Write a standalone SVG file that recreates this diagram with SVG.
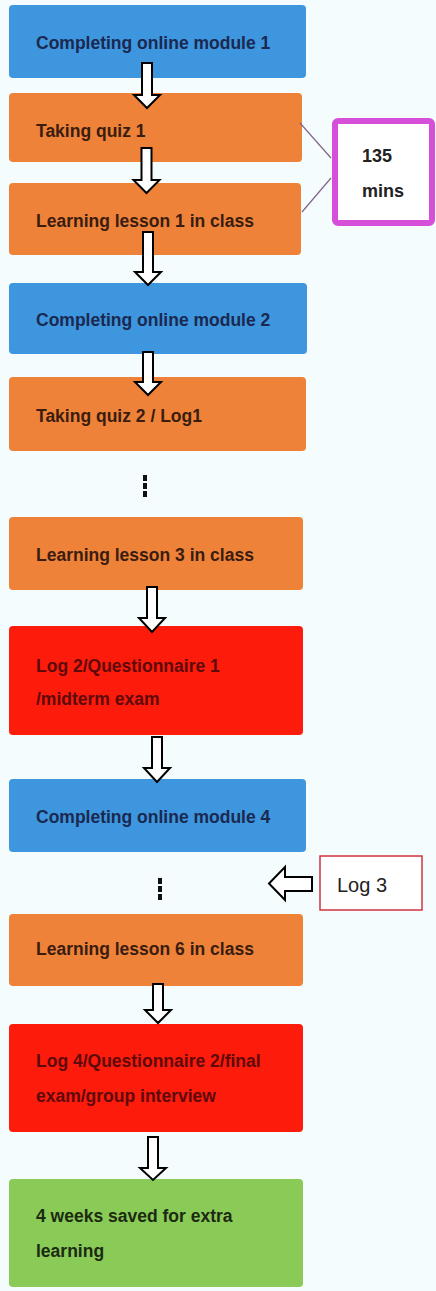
<svg xmlns="http://www.w3.org/2000/svg" width="436" height="1291" viewBox="0 0 436 1291">
<style>
.box{stroke:none}
.blue{fill:#3d96de}
.orange{fill:#ee8238}
.red{fill:#fd1b0c}
.green{fill:#8acb57}
.t{font-family:"Liberation Sans",Arial,sans-serif;font-weight:bold;font-size:17.5px}
.tb{fill:#1b2850}
.to{fill:#3a1c10}
.tr{fill:#5e0a0a}
.tg{fill:#1c2a12}
.arrow{fill:#ffffff;stroke:#000;stroke-width:2;stroke-linejoin:miter}
.dots{stroke:#111;stroke-width:4;stroke-dasharray:6 2}
.link{stroke:#86628a;stroke-width:1.2;fill:none}
</style>
<rect x="0" y="0" width="436" height="1291" fill="#f4fcfd"/>

<g id="n1"><rect class="box blue" x="9" y="5" width="297" height="73" rx="4"/><text class="t tb" x="36" y="49">Completing online module 1</text></g>
<g id="n2"><rect class="box orange" x="9" y="93" width="293" height="69" rx="4"/><text class="t to" x="36" y="137">Taking quiz 1</text></g>
<g id="n3"><rect class="box orange" x="9" y="183" width="292" height="72" rx="4"/><text class="t to" x="36" y="227">Learning lesson 1 in class</text></g>
<g id="n4"><rect class="box blue" x="9" y="283" width="298" height="71" rx="4"/><text class="t tb" x="36" y="326">Completing online module 2</text></g>
<g id="n5"><rect class="box orange" x="9" y="377" width="297" height="74" rx="4"/><text class="t to" x="36" y="422">Taking quiz 2 / Log1</text></g>
<g id="n6"><rect class="box orange" x="9" y="517" width="294" height="73" rx="4"/><text class="t to" x="36" y="561">Learning lesson 3 in class</text></g>
<g id="n7"><rect class="box red" x="9" y="626" width="294" height="109" rx="4"/><text class="t tr" x="36" y="672">Log 2/Questionnaire 1</text><text class="t tr" x="36" y="705">/midterm exam</text></g>
<g id="n8"><rect class="box blue" x="9" y="779" width="297" height="73" rx="4"/><text class="t tb" x="36" y="823">Completing online module 4</text></g>
<g id="n9"><rect class="box orange" x="9" y="914" width="294" height="72" rx="4"/><text class="t to" x="36" y="955">Learning lesson 6 in class</text></g>
<g id="n10"><rect class="box red" x="9" y="1024" width="294" height="108" rx="4"/><text class="t tr" x="36" y="1067">Log 4/Questionnaire 2/final</text><text class="t tr" x="36" y="1102">exam/group interview</text></g>
<g id="n11"><rect class="box green" x="9" y="1179" width="294" height="108" rx="4"/><text class="t tg" x="36" y="1222">4 weeks saved for extra</text><text class="t tg" x="36" y="1257">learning</text></g>

<g id="time"><rect x="335" y="121" width="97" height="102" rx="3" fill="#ffffff" stroke="#d64fd8" stroke-width="6"/><text class="t" style="font-size:18px" fill="#222" x="362" y="162">135</text><text class="t" style="font-size:18px" fill="#222" x="362" y="197">mins</text></g>

<g id="log3"><rect x="320" y="856" width="102" height="54" fill="#ffffff" stroke="#d0323f" stroke-width="1.5"/><text x="337" y="892" font-family="Liberation Sans,Arial,sans-serif" font-size="20" fill="#222">Log 3</text></g>

<g id="connectors">
<path class="link" d="M300 123 L331 158"/>
<path class="link" d="M302 212 L331 178"/>
<path class="arrow" d="M142 63 H152 V95 H160 L147 108 L134 95 H142 Z"/>
<path class="arrow" d="M141.5 148 H151.5 V180 H159.5 L146.5 193 L133.5 180 H141.5 Z"/>
<path class="arrow" d="M143 232 H153 V272 H161 L148 285 L135 272 H143 Z"/>
<path class="arrow" d="M143 352 H153 V382 H161 L148 395 L135 382 H143 Z"/>
<path class="arrow" d="M147 587 H157 V618 H165 L152 632 L139 618 H147 Z"/>
<path class="arrow" d="M152 737 H162 V768 H170 L157 782 L144 768 H152 Z"/>
<path class="arrow" d="M153 984 H163 V1010 H171 L158 1023 L145 1010 H153 Z"/>
<path class="arrow" d="M148 1137 H158 V1168 H166 L153 1180 L140 1168 H148 Z"/>
<path class="arrow" d="M312 877 V891 H285 V900 L269 883.5 L285 867 V877 Z"/>
<line class="dots" x1="145" y1="475" x2="145" y2="498"/>
<line class="dots" x1="160" y1="878" x2="160" y2="901"/>
</g>
</svg>
